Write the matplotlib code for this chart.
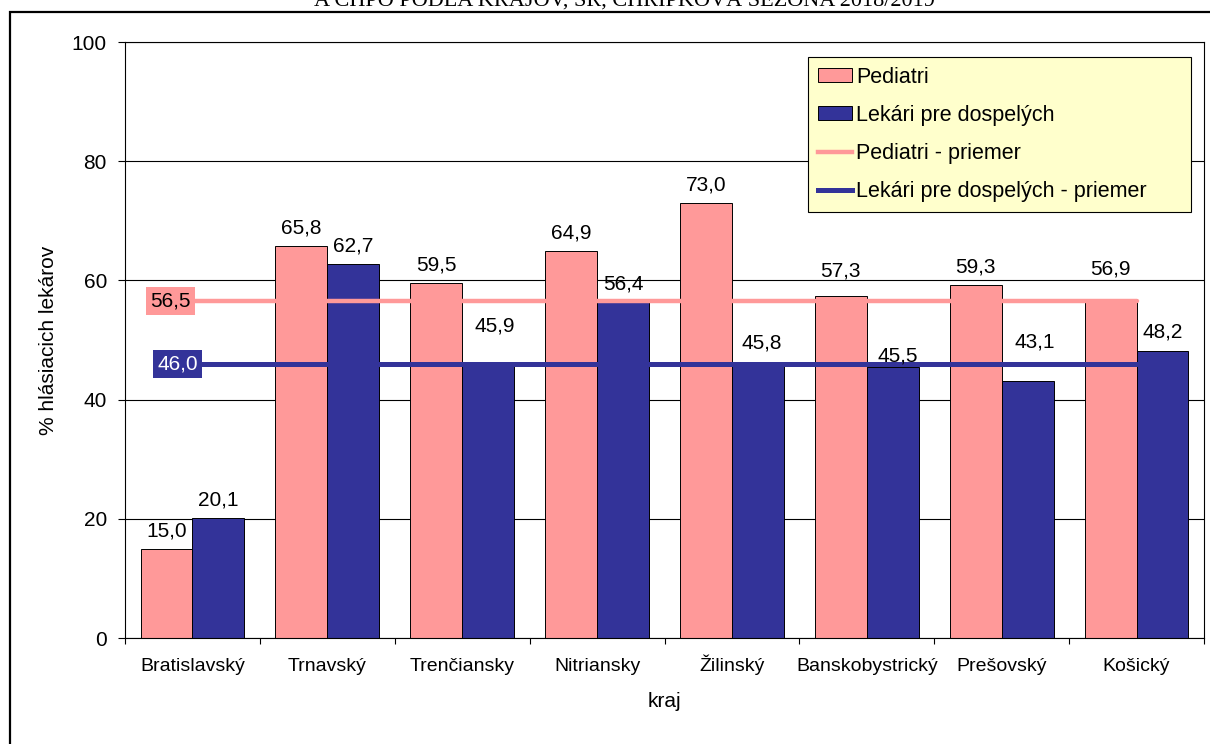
import numpy as np
import matplotlib.pyplot as plt
from matplotlib.patches import Rectangle, Patch
from matplotlib.lines import Line2D

plt.rcParams['font.family'] = ['Liberation Sans', 'DejaVu Sans']

# data
regions = ['Bratislavský', 'Trnavský', 'Trenčiansky', 'Nitriansky',
           'Žilinský', 'Banskobystrický', 'Prešovský', 'Košický']
pediatri = [15.0, 65.8, 59.5, 64.9, 73.0, 57.3, 59.3, 56.9]
dospeli = [20.1, 62.7, 45.9, 56.4, 45.8, 45.5, 43.1, 48.2]
pediatri_mean = 56.5
dospeli_mean = 46.0

# manual label shifts (pixels), as in the original chart
ped_dy = [0, 0, 0, 0, 0, 7, 0, 12]
dos_dx = [0, 0, 7, 0, 4, 5, 7, 0]
dos_dy = [0, 0, 20, 0, 4, -7, 21, 1]

PINK = '#FF9999'
BLUE = '#333399'


def fmt(v):
    return f'{v:.1f}'.replace('.', ',')


fig = plt.figure(figsize=(12.1, 7.44), dpi=100)
ax = fig.add_axes([125 / 1210, 106 / 744, 1079 / 1210, 596 / 744])

x = np.arange(len(regions))
w = 0.385

ax.set_axisbelow(True)
ax.yaxis.grid(True, color='black', lw=0.8)
ax.bar(x - w / 2, pediatri, w, color=PINK, edgecolor='black', lw=0.7, zorder=2)
ax.bar(x + w / 2, dospeli, w, color=BLUE, edgecolor='black', lw=0.7, zorder=2)

# average lines
ax.plot(x, [pediatri_mean] * len(x), color=PINK, lw=3.2, zorder=3,
        solid_capstyle='round')
ax.plot(x, [dospeli_mean] * len(x), color=BLUE, lw=3.6, zorder=3,
        solid_capstyle='round')

# value labels
for i in x:
    ax.annotate(fmt(pediatri[i]), (i - w / 2, pediatri[i]),
                xytext=(0, 18 + ped_dy[i]), textcoords='offset pixels',
                ha='center', va='center', fontsize=15, zorder=5)
    ax.annotate(fmt(dospeli[i]), (i + w / 2, dospeli[i]),
                xytext=(dos_dx[i], 18 + dos_dy[i]), textcoords='offset pixels',
                ha='center', va='center', fontsize=15, zorder=5)

# average labels
ax.annotate(fmt(pediatri_mean), (0, pediatri_mean), xytext=(-22, 0),
            textcoords='offset pixels', ha='center', va='center', fontsize=15,
            color='black', zorder=6,
            bbox=dict(boxstyle='square,pad=0.22', fc=PINK, ec='none'))
ax.annotate(fmt(dospeli_mean), (0, dospeli_mean), xytext=(-15, 0),
            textcoords='offset pixels', ha='center', va='center', fontsize=15,
            color='white', zorder=6,
            bbox=dict(boxstyle='square,pad=0.22', fc=BLUE, ec='none'))

ax.set_xlim(-0.5, len(regions) - 0.5)
ax.set_ylim(0, 100)
ax.set_yticks(np.arange(0, 101, 20))
ax.tick_params(axis='y', labelsize=15, length=5, width=0.8, pad=8)
ax.set_xticks(x)
ax.set_xticklabels(regions, fontsize=14, va='baseline')
ax.set_xticks(np.arange(len(regions) + 1) - 0.5, minor=True)
ax.tick_params(axis='x', which='major', length=0, pad=24)
ax.tick_params(axis='x', which='minor', length=4, width=0.8)
for s in ax.spines.values():
    s.set_color('black')
    s.set_linewidth(0.8)

ax.set_xlabel('kraj', fontsize=15, labelpad=12)
ax.set_ylabel('% hlásiacich lekárov', fontsize=15, labelpad=10)

handles = [Patch(fc=PINK, ec='black', lw=0.7),
           Patch(fc=BLUE, ec='black', lw=0.7),
           Line2D([], [], color=PINK, lw=3.2),
           Line2D([], [], color=BLUE, lw=3.6)]
labels = ['Pediatri', 'Lekári pre dospelých', 'Pediatri - priemer',
          'Lekári pre dospelých - priemer']
leg = ax.legend(handles, labels, loc='upper left',
                bbox_to_anchor=(0.633, 0.975, 0.355, 0), mode='expand',
                borderaxespad=0, fontsize=15.5, fancybox=False, framealpha=1,
                facecolor='#FFFFCC', edgecolor='black', handlelength=1.6,
                handleheight=0.6, handletextpad=0.2, labelspacing=0.8,
                borderpad=0.45)
leg.get_frame().set_linewidth(0.8)
leg.set_zorder(10)

# outer chart frame and cut-off title
fig.patches.append(Rectangle((10 / 1210, -0.1), 1.2, 1.1 - 12 / 744,
                             transform=fig.transFigure, fill=False,
                             ec='black', lw=1.6))
fig.text(0.516, 1 - 6 / 744, 'A CHPO PODĽA KRAJOV, SR, CHRÍPKOVÁ SEZÓNA 2018/2019',
         ha='center', va='baseline', fontsize=16, family='Liberation Serif')

fig.savefig('out.png', dpi=100)
